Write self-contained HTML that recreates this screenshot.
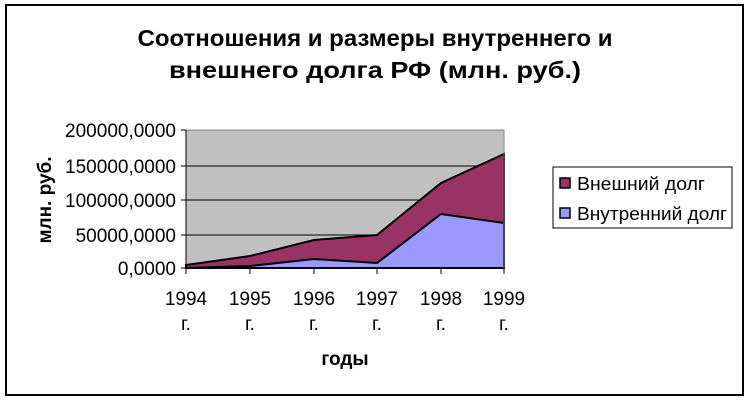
<!DOCTYPE html>
<html><head><meta charset="utf-8"><style>
body{margin:0;background:#fff;}
svg{display:block;font-family:"Liberation Sans",Arial,sans-serif;}
</style></head><body>
<svg width="750" height="401" viewBox="0 0 750 401">
<rect x="6" y="5" width="737" height="390" fill="#fff" stroke="#000" stroke-width="2"/>
<text x="375" y="46" font-size="23" font-weight="bold" text-anchor="middle" textLength="475" lengthAdjust="spacingAndGlyphs">Соотношения и размеры внутреннего и</text>
<text x="375" y="78" font-size="23" font-weight="bold" text-anchor="middle" textLength="412" lengthAdjust="spacingAndGlyphs">внешнего долга РФ (млн. руб.)</text>
<rect x="186" y="130" width="318" height="138" fill="#c0c0c0"/>
<g stroke="#000" stroke-width="1">
<line x1="186" y1="166" x2="504" y2="166"/><line x1="186" y1="200" x2="504" y2="200"/><line x1="186" y1="235" x2="504" y2="235"/>
</g>
<polygon points="186,265 250,256 314,240 377,235 441,183 504,154 504,268 186,268" fill="#993366" stroke="#000" stroke-width="2"/>
<polygon points="186,268 250,266 314,259 377,263 441,214 504,223 504,268 186,268" fill="#9999ff" stroke="#000" stroke-width="2"/>
<polyline points="186,130 504,130 504,268" fill="none" stroke="#808080" stroke-width="1"/>
<g stroke="#000" stroke-width="1">
<line x1="186" y1="130" x2="186" y2="268"/><line x1="186" y1="268.5" x2="504" y2="268.5"/>
<line x1="181" y1="130" x2="186" y2="130"/><line x1="181" y1="166" x2="186" y2="166"/><line x1="181" y1="200" x2="186" y2="200"/><line x1="181" y1="235" x2="186" y2="235"/><line x1="181" y1="268" x2="186" y2="268"/>
<line x1="186" y1="268" x2="186" y2="274"/><line x1="250" y1="268" x2="250" y2="274"/><line x1="314" y1="268" x2="314" y2="274"/><line x1="377" y1="268" x2="377" y2="274"/><line x1="441" y1="268" x2="441" y2="274"/><line x1="504" y1="268" x2="504" y2="274"/>
</g>
<g font-size="19" text-anchor="end">
<text x="176" y="137">200000,0000</text><text x="176" y="173">150000,0000</text><text x="176" y="207">100000,0000</text><text x="176" y="242">50000,0000</text><text x="176" y="275">0,0000</text>
</g>
<g font-size="19" text-anchor="middle">
<text x="186" y="305">1994</text><text x="250" y="305">1995</text><text x="314" y="305">1996</text><text x="377" y="305">1997</text><text x="441" y="305">1998</text><text x="504" y="305">1999</text>
<text x="186" y="330">г.</text><text x="250" y="330">г.</text><text x="314" y="330">г.</text><text x="377" y="330">г.</text><text x="441" y="330">г.</text><text x="504" y="330">г.</text>
</g>
<text x="345" y="365" font-size="19" font-weight="bold" text-anchor="middle">годы</text>
<text transform="translate(51,200) rotate(-90)" font-size="19" font-weight="bold" text-anchor="middle">млн. руб.</text>
<rect x="553" y="167" width="179" height="61" fill="#fff" stroke="#000" stroke-width="1"/>
<rect x="560" y="178" width="10" height="10" fill="#993366" stroke="#000" stroke-width="1.5"/>
<rect x="560" y="208" width="10" height="10" fill="#9999ff" stroke="#000" stroke-width="1.5"/>
<text x="577" y="190" font-size="18" textLength="128" lengthAdjust="spacingAndGlyphs">Внешний долг</text>
<text x="577" y="220" font-size="18" textLength="150" lengthAdjust="spacingAndGlyphs">Внутренний долг</text>
</svg>
</body></html>
